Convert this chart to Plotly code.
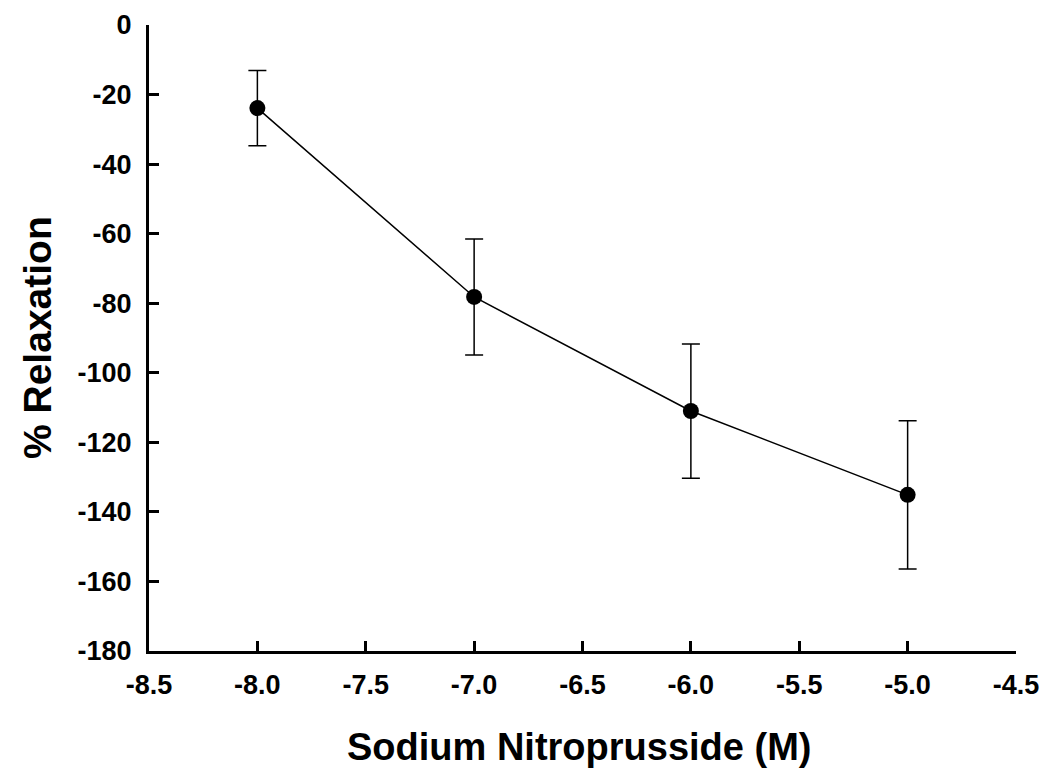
import plotly.graph_objects as go

# log molar concentration of sodium nitroprusside
conc = [-8.0, -7.0, -6.0, -5.0]
relax = [-23.9, -78.2, -111.0, -135.1]
err = [10.8, 16.7, 19.3, 21.3]

x_ticks = [-8.5, -8.0, -7.5, -7.0, -6.5, -6.0, -5.5, -5.0, -4.5]
y_ticks = [0, -20, -40, -60, -80, -100, -120, -140, -160, -180]
# plain hyphen minus like the original, not the unicode minus
x_labels = ['%.1f' % v for v in x_ticks]
y_labels = ['%d' % v for v in y_ticks]

x_title = 'Sodium Nitroprusside (M)'
y_title = '% Relaxation'

fig = go.Figure()
fig.add_trace(go.Scatter(
    x=conc, y=relax, mode='lines+markers',
    line=dict(color='black', width=1.5),
    marker=dict(color='black', size=16),
    error_y=dict(type='data', array=err, visible=True,
                 color='black', thickness=1.5, width=9),
    showlegend=False
))

axis_style = dict(
    showline=True, linecolor='black', linewidth=3,
    ticks='inside', ticklen=10, tickwidth=3, tickcolor='black',
    showgrid=False, zeroline=False, automargin=False,
    tickfont=dict(size=27, weight='bold'),
)

# page body has an 8px margin, so size the figure a little smaller
fig.update_layout(
    width=1042, height=773,
    margin=dict(l=141, r=34, t=17, b=130),
    plot_bgcolor='white', paper_bgcolor='white',
    font=dict(family='Liberation Sans, Arial', color='black'),
    xaxis=dict(range=[-8.5, -4.5], tickvals=x_ticks, ticktext=x_labels,
               ticklabelstandoff=8, **axis_style),
    yaxis=dict(range=[-180, 0], tickvals=y_ticks, ticktext=y_labels,
               ticklabelstandoff=9, **axis_style),
)

# axis titles as annotations so they sit where the original has them
fig.add_annotation(text=x_title, xref='paper', yref='paper', x=0.5, y=0,
                   xanchor='center', yanchor='middle', xshift=-4, yshift=-96,
                   showarrow=False, font=dict(size=38, weight='bold'))
fig.add_annotation(text=y_title, xref='paper', yref='paper', x=0, y=0.5,
                   xanchor='center', yanchor='middle', xshift=-112,
                   textangle=-90, showarrow=False,
                   font=dict(size=39, weight='bold'))

fig.write_html("out.html")
